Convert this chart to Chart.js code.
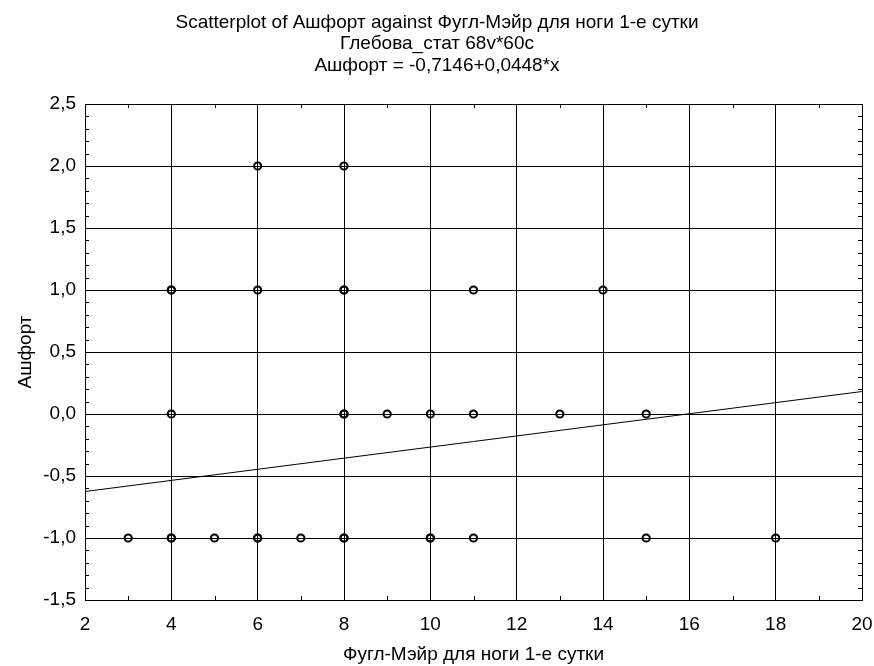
<!DOCTYPE html>
<html>
<head>
<meta charset="utf-8">
<script src="https://cdn.jsdelivr.net/npm/chart.js@4"></script>
<style>
  html, body { margin: 0; padding: 0; background: #fff; }
  #wrap { width: 874px; height: 666px; }
</style>
</head>
<body>
<div id="wrap"><canvas id="scatterChart" width="874" height="666"></canvas></div>
<script>
// data (duplicates show as bolder circles)
const pointsX = [6, 8,
                 4, 4, 6, 8, 8, 11, 14,
                 4, 8, 8, 9, 10, 11, 13, 15,
                 3, 4, 4, 5, 6, 6, 7, 8, 8, 10, 10, 11, 15, 18];
const pointsY = [2, 2,
                 1, 1, 1, 1, 1, 1, 1,
                 0, 0, 0, 0, 0, 0, 0, 0,
                 -1, -1, -1, -1, -1, -1, -1, -1, -1, -1, -1, -1, -1, -1];

// regression line Ашфорт = -0,7146+0,0448*x, ends at x = 2 and x = 20
const fitX = [2, 20];
const fitY = [-0.6250, 0.1814];

const xTickLabels = ['2', '4', '6', '8', '10', '12', '14', '16', '18', '20'];
const yTickLabels = ['-1,5', '-1,0', '-0,5', '0,0', '0,5', '1,0', '1,5', '2,0', '2,5'];

const titleLines = [
    'Scatterplot of Ашфорт against Фугл-Мэйр для ноги 1-е сутки',
    'Глебова_стат 68v*60c',
    'Ашфорт = -0,7146+0,0448*x'
];

const fontFamily = '"Liberation Sans", Arial, sans-serif';

let scatterData = pointsX.map((x, i) => ({x: x, y: pointsY[i]}));
let fitData = fitX.map((x, i) => ({x: x, y: fitY[i]}));

// small inside ticks between the grid lines, like the original
const minorTicks = {
    id: 'minorTicks',
    afterDatasetsDraw(chart) {
        const ctx = chart.ctx;
        const xs = chart.scales.x;
        const ys = chart.scales.y;
        const area = chart.chartArea;
        ctx.save();
        ctx.strokeStyle = '#000';
        ctx.lineWidth = 1;
        ctx.beginPath();
        for (let v = 3; v < 20; v += 2) {
            const px = Math.round(xs.getPixelForValue(v)) + 0.5;
            ctx.moveTo(px, area.bottom);
            ctx.lineTo(px, area.bottom - 4);
            ctx.moveTo(px, area.top);
            ctx.lineTo(px, area.top + 4);
        }
        for (let k = -15; k <= 25; k++) {
            if (k % 5 === 0) continue;
            const py = Math.round(ys.getPixelForValue(k / 10)) + 0.5;
            ctx.moveTo(area.left, py);
            ctx.lineTo(area.left + 4, py);
            ctx.moveTo(area.right, py);
            ctx.lineTo(area.right - 4, py);
        }
        ctx.stroke();
        ctx.restore();
    }
};

const config = {
    type: 'scatter',
    data: {
        datasets: [{
            label: 'points',
            data: scatterData,
            pointStyle: 'circle',
            pointRadius: 3.6,
            pointBorderWidth: 2,
            pointBorderColor: '#000',
            pointBackgroundColor: 'rgba(0,0,0,0)',
            order: 1
        }, {
            label: 'fit',
            type: 'line',
            data: fitData,
            borderColor: '#000',
            borderWidth: 1,
            pointRadius: 0,
            fill: false,
            order: 2
        }]
    },
    options: {
        responsive: false,
        animation: false,
        layout: {
            padding: 0
        },
        plugins: {
            legend: {display: false},
            tooltip: {enabled: false},
            title: {
                display: true,
                text: titleLines,
                color: '#000',
                font: {family: fontFamily, size: 19, weight: 'normal', lineHeight: 21.7 / 19},
                padding: {top: 11.5, bottom: 27.4}
            }
        },
        scales: {
            x: {
                type: 'linear',
                min: 2,
                max: 20,
                afterFit(scale) {
                    scale.height = 66;
                    scale.paddingLeft = 0;
                    scale.paddingRight = 12;
                },
                ticks: {
                    stepSize: 2,
                    color: '#000',
                    padding: 13,
                    maxRotation: 0,
                    font: {family: fontFamily, size: 19},
                    callback: (value) => xTickLabels[(value - 2) / 2]
                },
                grid: {color: '#000', lineWidth: 1, drawTicks: false},
                border: {color: '#000', width: 1},
                title: {
                    display: true,
                    text: 'Фугл-Мэйр для ноги 1-е сутки',
                    color: '#000',
                    font: {family: fontFamily, size: 19},
                    padding: {top: 0, bottom: 0}
                }
            },
            y: {
                type: 'linear',
                min: -1.5,
                max: 2.5,
                afterFit(scale) { scale.width = 85; },
                ticks: {
                    stepSize: 0.5,
                    color: '#000',
                    padding: 9,
                    font: {family: fontFamily, size: 19},
                    callback: (value) => yTickLabels[Math.round((value + 1.5) * 2)]
                },
                grid: {color: '#000', lineWidth: 1, drawTicks: false},
                border: {color: '#000', width: 1},
                title: {
                    display: true,
                    text: 'Ашфорт',
                    color: '#000',
                    font: {family: fontFamily, size: 19},
                    padding: {top: 14.5, bottom: 0}
                }
            }
        }
    },
    plugins: [minorTicks]
};

const scatterChart = new Chart(document.getElementById('scatterChart').getContext('2d'), config);
</script>
</body>
</html>
